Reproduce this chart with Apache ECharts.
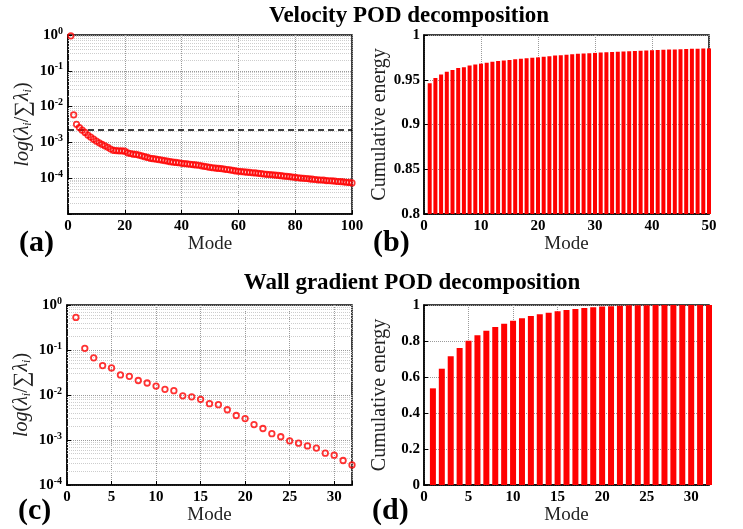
<!DOCTYPE html>
<html>
<head>
<meta charset="utf-8">
<script src="https://cdn.jsdelivr.net/npm/echarts@6/dist/echarts.min.js"></script>
<style>
    html, body { margin: 0; padding: 0; background: #fff; }
    #chart { width: 743px; height: 529px; }
</style>
</head>
<body>
<div id="chart"></div>
<script>
// velocity POD: normalised eigenvalues, modes 1..100
const velEig = [
    0.946, 0.0059, 0.0032, 0.0026, 0.0022, 0.0019, 0.0016, 0.0014, 0.00123, 0.00108,
    0.00097, 0.00088, 0.0008, 0.00073, 0.00065, 0.0006, 0.00059, 0.00058, 0.00058, 0.00057,
    0.00051, 0.00049, 0.00047, 0.00046, 0.00044, 0.00042, 0.0004, 0.00038, 0.00036, 0.00035,
    0.00034, 0.00033, 0.00032, 0.00031, 0.0003, 0.00029, 0.00028, 0.000275, 0.00027, 0.00026,
    0.000255, 0.00025, 0.000245, 0.00024, 0.000235, 0.00023, 0.000222, 0.000215, 0.000208, 0.0002,
    0.000196, 0.000192, 0.000188, 0.000184, 0.00018, 0.000175, 0.00017, 0.000165, 0.00016, 0.000156,
    0.000153, 0.00015, 0.000147, 0.000145, 0.000142, 0.00014, 0.000137, 0.000134, 0.000131, 0.000128,
    0.000126, 0.000124, 0.000122, 0.00012, 0.000118, 0.000115, 0.000113, 0.000111, 0.000108, 0.000105,
    0.000103, 0.000101, 0.0000995, 0.000098, 0.000096, 0.000094, 0.000092, 0.00009, 0.000089, 0.000088,
    0.000086, 0.000085, 0.000084, 0.000083, 0.000081, 0.00008, 0.000079, 0.000077, 0.000076, 0.000074
];
const velThreshold = 0.0023;

// velocity POD: cumulative energy, modes 1..50
const velCum = [
    0.946, 0.952, 0.956, 0.959, 0.961, 0.963, 0.964, 0.966, 0.967, 0.968,
    0.969, 0.970, 0.971, 0.9715, 0.972, 0.973, 0.9735, 0.974, 0.9745, 0.975,
    0.9757, 0.9763, 0.977, 0.9775, 0.978, 0.9785, 0.979, 0.9793, 0.9797, 0.980,
    0.9804, 0.9807, 0.981, 0.9813, 0.9816, 0.9819, 0.9822, 0.9825, 0.9828, 0.983,
    0.9833, 0.9835, 0.9837, 0.9839, 0.9841, 0.9843, 0.9845, 0.9847, 0.9849, 0.985
];

// wall gradient POD: normalised eigenvalues, modes 1..32
const wallEig = [
    0.53, 0.109, 0.067, 0.045, 0.040, 0.028, 0.026, 0.021, 0.0185, 0.0158,
    0.0134, 0.0125, 0.0096, 0.0091, 0.0080, 0.0064, 0.0061, 0.0047, 0.0035, 0.0030,
    0.0022, 0.0018, 0.00138, 0.00118, 0.00096, 0.00085, 0.00074, 0.00066, 0.00051, 0.00046,
    0.00035, 0.00028
];

// wall gradient POD: cumulative energy, modes 1..32
const wallCum = [
    0.537, 0.646, 0.715, 0.761, 0.802, 0.832, 0.857, 0.878, 0.896, 0.913,
    0.926, 0.939, 0.948, 0.957, 0.965, 0.972, 0.978, 0.983, 0.987, 0.991,
    0.993, 0.996, 0.998, 0.999, 0.999, 0.9995, 0.9995, 0.9997, 0.9998, 0.9999,
    0.9999, 1.0
];

const serif = '"Liberation Serif", "Times New Roman", "DejaVu Serif", serif';
const red = '#ff0000';

const byMode = (arr) => arr.map((v, i) => [i + 1, v]);

// MATLAB-style minor grid lines between decades
function minorGrid(loExp, hiExp) {
    const out = [];
    for (let e = loExp; e < hiExp; e++) {
        for (let k = 2; k <= 9; k++) out.push({ yAxis: k * Math.pow(10, e) });
    }
    return out;
}

const tickFont = { fontFamily: serif, fontWeight: 'bold', fontSize: 15, color: '#000' };

const powRich = {
    b: { fontFamily: serif, fontWeight: 'bold', fontSize: 15, color: '#000', lineHeight: 18 },
    s: { fontFamily: serif, fontWeight: 'bold', fontSize: 10, color: '#000', lineHeight: 10, verticalAlign: 'top' }
};

const powLabel = (minShown) => (v) => {
    const e = Math.round(Math.log10(v));
    if (e < minShown) return '';
    return '{b|10}{s|' + e + '}';
};

const eigName = '{i|log}{n|(}{i|λ}{sub|i}{n|/}{big|∑}{i|λ}{sub|i}{n|)}';
const eigNameStyle = {
    color: '#222',
    rich: {
        i: { fontFamily: serif, fontStyle: 'italic', fontSize: 20, color: '#222' },
        n: { fontFamily: serif, fontSize: 20, color: '#222' },
        big: { fontFamily: serif, fontSize: 22, color: '#222' },
        sub: { fontFamily: serif, fontStyle: 'italic', fontSize: 12, color: '#222', verticalAlign: 'bottom', lineHeight: 14 }
    }
};

const nameStyle = { fontFamily: serif, fontSize: 19, color: '#222' };
const energyNameStyle = { fontFamily: serif, fontSize: 20, color: '#222' };
const dotted = { type: 'dotted', color: '#9a9a9a', width: 1 };
const minorDotted = { type: 'dotted', color: '#cdcdcd', width: 1 };
const boxLine = { show: true, lineStyle: { color: '#000', width: 1.5 } };
const inTick = { show: true, inside: true, length: 4, lineStyle: { color: '#000' } };

const grids = [
    { left: 68, top: 35, width: 284, height: 179 },
    { left: 424, top: 35, width: 285, height: 179 },
    { left: 67, top: 305, width: 285, height: 180 },
    { left: 424, top: 305, width: 285, height: 180 }
].map(g => Object.assign({ show: true, borderColor: '#000', borderWidth: 1.5, backgroundColor: '#fff' }, g));

function modeAxis(gridIndex, max, interval) {
    return {
        type: 'value', gridIndex, min: 0, max, interval,
        name: 'Mode', nameLocation: 'middle', nameGap: 19, nameTextStyle: nameStyle,
        axisLine: boxLine, axisTick: inTick,
        axisLabel: Object.assign({ margin: 5, formatter: v => (v % interval === 0 ? v : '') }, tickFont),
        splitLine: { show: true, lineStyle: dotted }
    };
}

// minor grid goes under the markers
function gridLines(xi, yi, lo, hi) {
    return {
        type: 'line', xAxisIndex: xi, yAxisIndex: yi, data: [], z: 1, silent: true,
        markLine: {
            z: 1, silent: true, symbol: 'none', precision: 12, label: { show: false },
            lineStyle: minorDotted,
            data: minorGrid(lo, hi)
        }
    };
}

const titleFont = { fontFamily: serif, fontWeight: 'bold', fontSize: 23, color: '#000' };
const tagFont = { fontFamily: serif, fontWeight: 'bold', fontSize: 30, color: '#000' };

const option = {
    animation: false,
    backgroundColor: '#fff',
    title: [
        { text: 'Velocity POD decomposition', left: 404, top: 0, textAlign: 'center', textStyle: titleFont },
        { text: 'Wall gradient POD decomposition', left: 407, top: 267, textAlign: 'center', textStyle: titleFont },
        { text: '(a)', left: 14, top: 223, textStyle: tagFont },
        { text: '(b)', left: 368, top: 223, textStyle: tagFont },
        { text: '(c)', left: 13, top: 491, textStyle: tagFont },
        { text: '(d)', left: 367, top: 491, textStyle: tagFont }
    ],
    grid: grids,
    xAxis: [
        modeAxis(0, 100, 20),
        modeAxis(1, 50, 10),
        modeAxis(2, 32, 5),
        modeAxis(3, 32, 5)
    ],
    yAxis: [
        {
            type: 'log', gridIndex: 0, logBase: 10, min: 1e-5, max: 1,
            name: eigName, nameLocation: 'middle', nameGap: 34, nameRotate: 90, nameTextStyle: eigNameStyle,
            axisLine: boxLine, axisTick: inTick,
            axisLabel: { margin: 5, formatter: powLabel(-4), rich: powRich },
            splitLine: { show: true, lineStyle: dotted }
        },
        {
            type: 'value', gridIndex: 1, min: 0.8, max: 1, interval: 0.05,
            name: 'Cumulative energy', nameLocation: 'middle', nameGap: 34, nameRotate: 90, nameTextStyle: energyNameStyle,
            axisLine: boxLine, axisTick: inTick,
            axisLabel: Object.assign({ margin: 4, formatter: v => String(+v.toFixed(2)) }, tickFont),
            splitLine: { show: true, lineStyle: dotted }
        },
        {
            type: 'log', gridIndex: 2, logBase: 10, min: 1e-4, max: 1,
            name: eigName, nameLocation: 'middle', nameGap: 34, nameRotate: 90, nameTextStyle: eigNameStyle,
            axisLine: boxLine, axisTick: inTick,
            axisLabel: { margin: 5, formatter: powLabel(-4), rich: powRich },
            splitLine: { show: true, lineStyle: dotted }
        },
        {
            type: 'value', gridIndex: 3, min: 0, max: 1, interval: 0.2,
            name: 'Cumulative energy', nameLocation: 'middle', nameGap: 34, nameRotate: 90, nameTextStyle: energyNameStyle,
            axisLine: boxLine, axisTick: inTick,
            axisLabel: Object.assign({ margin: 4, formatter: v => String(+v.toFixed(1)) }, tickFont),
            splitLine: { show: true, lineStyle: dotted }
        }
    ],
    series: [
        gridLines(0, 0, -5, 0),
        {
            type: 'scatter', xAxisIndex: 0, yAxisIndex: 0, z: 3,
            data: byMode(velEig),
            symbol: 'circle', symbolSize: 5.5,
            itemStyle: { color: 'rgba(0,0,0,0)', borderColor: red, borderWidth: 1.7 },
            markLine: {
                z: 2, silent: true, symbol: 'none', precision: 12, label: { show: false },
                lineStyle: { type: [6, 4], color: '#000', width: 1.6 },
                data: [{ yAxis: velThreshold }]
            }
        },
        {
            type: 'bar', xAxisIndex: 1, yAxisIndex: 1, data: byMode(velCum),
            barWidth: 4, clip: true, itemStyle: { color: red }
        },
        gridLines(2, 2, -4, 0),
        {
            type: 'scatter', xAxisIndex: 2, yAxisIndex: 2, z: 3,
            data: byMode(wallEig),
            symbol: 'circle', symbolSize: 5.5,
            itemStyle: { color: 'rgba(0,0,0,0)', borderColor: red, borderWidth: 1.8 }
        },
        {
            type: 'bar', xAxisIndex: 3, yAxisIndex: 3, data: byMode(wallCum),
            barWidth: 6, clip: true, itemStyle: { color: red }
        }
    ]
};

const chart = echarts.init(document.getElementById('chart'));
chart.setOption(option);
</script>
</body>
</html>
